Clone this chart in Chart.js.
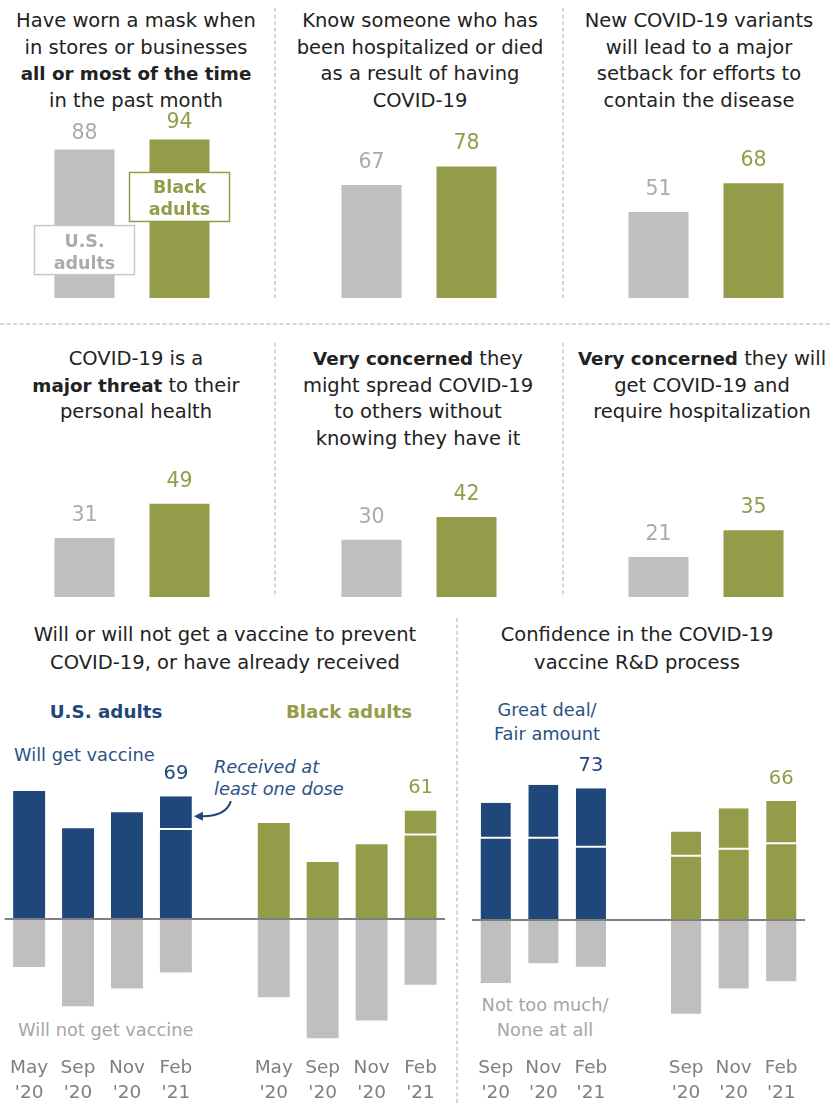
<!DOCTYPE html>
<html>
<head>
<meta charset="utf-8">
<script src="https://cdn.jsdelivr.net/npm/chart.js@4.4.0/dist/chart.umd.min.js"></script>
<style>
  html, body { margin:0; padding:0; background:#fff; overflow:hidden; }
  #wrap { position:relative; width:836px; height:1104px; overflow:hidden; font-family:"DejaVu Sans", sans-serif; }
  #wrap canvas, #wrap svg { position:absolute; }
  .title { position:absolute; transform:translateX(-50%); white-space:nowrap; text-align:center; font-size:19.5px; line-height:26.7px; color:#222; }
  .title b { font-size:18.3px; }
  .note { position:absolute; white-space:nowrap; font-size:17.8px; line-height:24px; }
  .head { position:absolute; transform:translateX(-50%); white-space:nowrap; font-weight:bold; font-size:18.3px; line-height:24px; }
</style>
</head>
<body>
<div id="wrap">
  <svg width="836" height="1104" style="left:0;top:0">
    <g stroke="#C8C8C8" stroke-width="1.5" stroke-dasharray="4 2.5">
      <line x1="275" y1="8" x2="275" y2="298"/>
      <line x1="563" y1="8" x2="563" y2="298"/>
      <line x1="0" y1="324" x2="832" y2="324"/>
      <line x1="275" y1="343" x2="275" y2="597"/>
      <line x1="563" y1="343" x2="563" y2="597"/>
      <line x1="457" y1="618" x2="457" y2="1104"/>
    </g>
  </svg>

  <div class="title" style="left:136px;top:8px">Have worn a mask when<br>in stores or businesses<br><b>all or most of the time</b><br>in the past month</div>
  <div class="title" style="left:420px;top:8px">Know someone who has<br>been hospitalized or died<br>as a result of having<br>COVID-19</div>
  <div class="title" style="left:699px;top:8px">New COVID-19 variants<br>will lead to a major<br>setback for efforts to<br>contain the disease</div>
  <div class="title" style="left:136px;top:346px">COVID-19 is a<br><b>major threat</b> to their<br>personal health</div>
  <div class="title" style="left:418px;top:346px"><b>Very concerned</b> they<br>might spread COVID-19<br>to others without<br>knowing they have it</div>
  <div class="title" style="left:702px;top:346px"><b>Very concerned</b> they will<br>get COVID-19 and<br>require hospitalization</div>
  <div class="title" style="left:225px;top:621px;line-height:28px">Will or will not get a vaccine to prevent<br>COVID-19, or have already received</div>
  <div class="title" style="left:637px;top:621px;line-height:28px">Confidence in the COVID-19<br>vaccine R&amp;D process</div>

  <div class="head" style="left:106px;top:700px;color:#1F477A">U.S. adults</div>
  <div class="head" style="left:349px;top:700px;color:#949C4A">Black adults</div>
  <div class="note" style="left:14px;top:743px;color:#2B5285">Will get vaccine</div>
  <div class="note" style="left:214px;top:756px;line-height:22px;font-style:italic;color:#2B5285">Received at<br>least one dose</div>
  <div class="note" style="left:18px;top:1018px;color:#A6A6A6">Will not get vaccine</div>
  <div class="note" style="left:547px;top:698px;transform:translateX(-50%);text-align:center;color:#2B5285">Great deal/<br>Fair amount</div>
  <div class="note" style="left:545px;top:992px;line-height:25px;transform:translateX(-50%);text-align:center;color:#A6A6A6">Not too much/<br>None at all</div>

  <canvas id="p1" width="210" height="198" style="left:27px;top:100px"></canvas>
  <canvas id="p2" width="210" height="198" style="left:314px;top:100px"></canvas>
  <canvas id="p3" width="210" height="198" style="left:601px;top:100px"></canvas>
  <canvas id="p4" width="210" height="157" style="left:27px;top:440px"></canvas>
  <canvas id="p5" width="210" height="157" style="left:314px;top:440px"></canvas>
  <canvas id="p6" width="210" height="157" style="left:601px;top:440px"></canvas>
  <canvas id="vax" width="441" height="366" style="left:4px;top:740px"></canvas>
  <canvas id="conf" width="333" height="366" style="left:472px;top:740px"></canvas>
</div>

<script>
// values (percent)
const groups = ['U.S. adults', 'Black adults'];
const panelUS    = [88, 67, 51, 31, 30, 21];
const panelBlack = [94, 78, 68, 49, 42, 35];

const vaxMonths = [['May', "'20"], ['Sep', "'20"], ['Nov', "'20"], ['Feb', "'21"]];
const usWillGet      = [72, 51, 60, 50];
const usReceived     = [0, 0, 0, 19];
const usWillNot      = [27, 49, 39, 30];
const blackWillGet   = [54, 32, 42, 47];
const blackReceived  = [0, 0, 0, 14];
const blackWillNot   = [44, 67, 57, 37];

const confMonths = [['Sep', "'20"], ['Nov', "'20"], ['Feb', "'21"]];
const usConfLower    = [45, 45, 40];
const usConfUpper    = [20, 30, 33];
const usConfNot      = [35, 24, 26];
const blackConfLower = [35, 39, 42];
const blackConfUpper = [14, 23, 24];
const blackConfNot   = [52, 38, 34];

const BLUE = '#1F477A', GREEN = '#949C4A', GRAY = '#BFBFBF', GRAY_TEXT = '#ABABAB', AXIS = '#7F7F7F';
const FONT = '"DejaVu Sans", sans-serif';

// numbers above the two bars of the small panels (+ the legend boxes of panel 1)
const valueLabels = {
  id: 'valueLabels',
  afterDatasetsDraw(chart, args, opts) {
    const ctx = chart.ctx;
    const meta = chart.getDatasetMeta(0);
    ctx.save();
    ctx.font = '20.5px ' + FONT;
    ctx.textAlign = 'center';
    ctx.textBaseline = 'alphabetic';
    meta.data.forEach((bar, i) => {
      ctx.fillStyle = i === 0 ? GRAY_TEXT : GREEN;
      ctx.fillText(chart.data.datasets[0].data[i], bar.x, bar.y - opts.gap);
    });
    if (opts.boxes) {
      const boxes = [
        { bar: meta.data[0], lines: ['U.S.', 'adults'], color: GRAY_TEXT, border: '#C9C9C9', dy: 76 },
        { bar: meta.data[1], lines: ['Black', 'adults'], color: GREEN, border: GREEN, dy: 33 }
      ];
      ctx.font = 'bold 17.5px ' + FONT;
      boxes.forEach(b => {
        const x = b.bar.x - 50, y = b.bar.y + b.dy;
        ctx.fillStyle = '#fff';
        ctx.fillRect(x, y, 100, 49);
        ctx.strokeStyle = b.border;
        ctx.lineWidth = 1.5;
        ctx.strokeRect(x, y, 100, 49);
        ctx.fillStyle = b.color;
        ctx.fillText(b.lines[0], b.bar.x, y + 21);
        ctx.fillText(b.lines[1], b.bar.x, y + 43);
      });
    }
    ctx.restore();
  }
};

function smallPanel(id, i, max, gap, boxes) {
  new Chart(document.getElementById(id), {
    type: 'bar',
    data: {
      labels: groups,
      datasets: [{
        data: [panelUS[i], panelBlack[i]],
        backgroundColor: [GRAY, GREEN],
        barPercentage: 0.632,
        categoryPercentage: 1
      }]
    },
    options: {
      responsive: false,
      animation: false,
      layout: { padding: { left: 10, right: 10 } },
      plugins: { legend: { display: false }, tooltip: { enabled: false }, valueLabels: { gap: gap, boxes: boxes } },
      scales: {
        x: { display: false },
        y: { display: false, min: 0, max: max }
      }
    },
    plugins: [valueLabels]
  });
}

smallPanel('p1', 0, 117.4, 11, true);
smallPanel('p2', 1, 117.4, 17, false);
smallPanel('p3', 2, 117.4, 17, false);
smallPanel('p4', 3, 82.4, 17, false);
smallPanel('p5', 4, 82.4, 17, false);
smallPanel('p6', 5, 82.4, 17, false);

// zero line, totals above the last bars, arrow to the "received" segment
const splitDecor = {
  id: 'splitDecor',
  afterDatasetsDraw(chart, args, opts) {
    const { ctx, chartArea, scales: { y } } = chart;
    const y0 = y.getPixelForValue(0);
    ctx.save();
    ctx.strokeStyle = '#808080';
    ctx.lineWidth = 2;
    ctx.beginPath();
    ctx.moveTo(chartArea.left, y0);
    ctx.lineTo(chartArea.right, y0);
    ctx.stroke();

    ctx.font = '19.5px ' + FONT;
    ctx.textAlign = 'center';
    ctx.textBaseline = 'alphabetic';
    opts.totals.forEach(t => {
      let total = 0;
      chart.data.datasets.forEach(ds => { const v = ds.data[t.index]; if (v > 0) total += v; });
      const bar = chart.getDatasetMeta(0).data[t.index];
      ctx.fillStyle = t.color;
      ctx.fillText(total, bar.x, y.getPixelForValue(total) - 17);
    });

    if (opts.arrowIndex != null) {
      const seg = chart.getDatasetMeta(1).data[opts.arrowIndex];
      const tx = seg.x + seg.width / 2 + 2;
      const ty = (seg.y + seg.base) / 2 + 3;
      ctx.strokeStyle = BLUE;
      ctx.fillStyle = BLUE;
      ctx.lineWidth = 2;
      ctx.beginPath();
      ctx.moveTo(tx + 37, ty - 15);
      ctx.quadraticCurveTo(tx + 32, ty + 1, tx + 6, ty);
      ctx.stroke();
      ctx.beginPath();
      ctx.moveTo(tx, ty);
      ctx.lineTo(tx + 9, ty - 4.5);
      ctx.lineTo(tx + 9, ty + 4.5);
      ctx.closePath();
      ctx.fill();
    }
    ctx.restore();
  }
};

function splitChart(id, months, lowUS, topUS, negUS, lowBlack, topBlack, negBlack, yMin, yMax, barPct, decor) {
  const gap = [null];
  const n = months.length;
  const colors = [...Array(n).fill(BLUE), 'rgba(0,0,0,0)', ...Array(n).fill(GREEN)];
  const orNull = v => (v ? v : null);
  new Chart(document.getElementById(id), {
    type: 'bar',
    data: {
      labels: [...months, '', ...months],
      datasets: [
        { data: [...lowUS, ...gap, ...lowBlack], backgroundColor: colors },
        {
          data: [...topUS.map(orNull), ...gap, ...topBlack.map(orNull)],
          backgroundColor: colors,
          borderColor: '#fff',
          borderWidth: { top: 0, left: 0, right: 0, bottom: 2 },
          borderSkipped: false
        },
        { data: [...negUS.map(v => -v), ...gap, ...negBlack.map(v => -v)], backgroundColor: GRAY }
      ]
    },
    options: {
      responsive: false,
      animation: false,
      datasets: { bar: { barPercentage: barPct, categoryPercentage: 1 } },
      plugins: { legend: { display: false }, tooltip: { enabled: false }, splitDecor: decor },
      scales: {
        x: {
          stacked: true,
          grid: { display: false, drawTicks: false },
          border: { display: false },
          ticks: { color: AXIS, padding: 6, maxRotation: 0, autoSkip: false, font: { family: FONT, size: 18.5, lineHeight: 1.35 } },
          afterFit: scale => { scale.height = 56; }   // keep the plot area at a fixed height
        },
        y: { stacked: true, display: false, min: yMin, max: yMax }
      }
    },
    plugins: [splitDecor]
  });
}

splitChart('vax', vaxMonths, usWillGet, usReceived, usWillNot, blackWillGet, blackReceived, blackWillNot,
  -73.6, 100.6, 0.653,
  { totals: [{ index: 3, color: BLUE }, { index: 8, color: GREEN }], arrowIndex: 3 });

splitChart('conf', confMonths, usConfLower, usConfUpper, usConfNot, blackConfLower, blackConfUpper, blackConfNot,
  -72.1, 99.8, 0.632,
  { totals: [{ index: 2, color: BLUE }, { index: 6, color: GREEN }], arrowIndex: null });
</script>
</body>
</html>
